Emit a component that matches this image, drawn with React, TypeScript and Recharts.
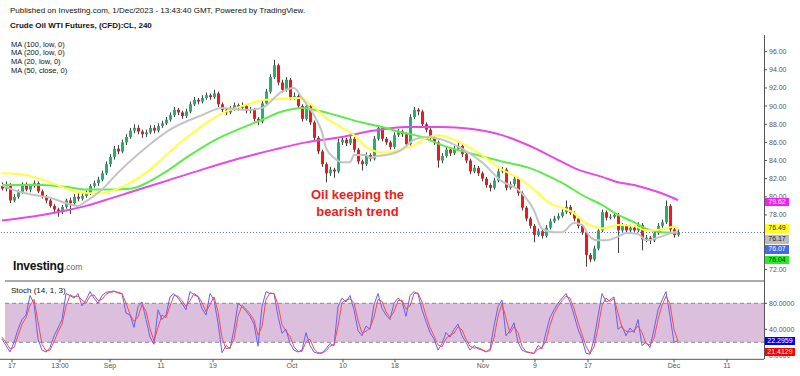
import React from 'react';
import { ComposedChart, Bar, Line, XAxis, YAxis, ReferenceLine, ReferenceArea } from 'recharts';

// [open, high, low, close] — 4h candles, Crude Oil WTI
const candles: number[][] = [
  [81.2, 81.6, 80.7, 80.9], [80.9, 81.7, 80.6, 81.3], [81.3, 81.5, 79.3, 79.6], [79.6, 80.3, 79.4, 80.0], [80.0, 80.8, 79.8, 80.5],
  [80.5, 81.6, 80.3, 81.4], [81.4, 81.6, 80.6, 80.8], [80.8, 81.4, 80.5, 81.2], [81.2, 81.8, 81.0, 81.5], [81.5, 81.7, 80.4, 80.6],
  [80.6, 80.8, 79.8, 80.0], [80.0, 80.2, 79.3, 79.6], [79.6, 79.8, 78.8, 79.0], [79.0, 79.2, 78.3, 78.6], [78.6, 78.8, 77.8, 78.3],
  [78.3, 79.1, 78.1, 78.9], [78.9, 79.8, 78.7, 79.6], [79.6, 79.9, 78.1, 79.3], [79.3, 80.3, 79.1, 80.0], [80.0, 80.4, 79.5, 79.8],
  [79.8, 80.4, 79.6, 80.1], [80.1, 80.7, 79.9, 80.4], [80.4, 81.4, 80.2, 81.2], [81.2, 81.8, 81.0, 81.5], [81.5, 82.2, 81.2, 81.9],
  [81.9, 82.9, 81.7, 82.6], [82.6, 83.9, 82.4, 83.6], [83.6, 84.7, 83.3, 84.4], [84.4, 85.6, 84.1, 85.3], [85.3, 85.7, 84.7, 85.0],
  [85.0, 86.3, 84.8, 86.0], [86.0, 86.9, 85.7, 86.6], [86.6, 87.6, 86.4, 87.3], [87.3, 88.0, 87.0, 87.6], [87.6, 87.9, 86.9, 87.2],
  [87.2, 87.4, 86.5, 86.9], [86.9, 87.4, 86.6, 87.1], [87.1, 87.9, 86.9, 87.6], [87.6, 87.9, 87.0, 87.3], [87.3, 88.1, 87.1, 87.8],
  [87.8, 88.4, 87.6, 88.1], [88.1, 88.8, 87.9, 88.5], [88.5, 89.3, 88.3, 89.0], [89.0, 89.9, 88.8, 89.6], [89.6, 89.8, 89.0, 89.3],
  [89.3, 89.5, 88.6, 88.9], [88.9, 89.7, 88.7, 89.4], [89.4, 90.5, 89.2, 90.2], [90.2, 91.0, 90.0, 90.7], [90.7, 90.9, 90.2, 90.5],
  [90.5, 91.2, 90.3, 90.9], [90.9, 91.5, 90.7, 91.2], [91.2, 91.4, 90.7, 91.0], [91.0, 91.8, 90.8, 91.4], [91.4, 91.6, 89.9, 90.2],
  [90.2, 90.4, 89.3, 89.6], [89.6, 89.8, 89.0, 89.3], [89.3, 90.0, 89.1, 89.7], [89.7, 90.4, 89.5, 90.1], [90.1, 90.3, 89.5, 89.8],
  [89.8, 90.4, 89.6, 90.0], [90.0, 90.2, 89.2, 89.5], [89.5, 89.9, 89.2, 89.6], [89.6, 89.8, 88.3, 88.6], [88.6, 88.8, 87.9, 88.3],
  [88.3, 90.6, 88.1, 90.3], [90.3, 91.9, 90.1, 91.6], [91.6, 93.5, 91.4, 93.2], [93.2, 95.1, 93.0, 94.5], [94.5, 94.7, 92.3, 92.6],
  [92.6, 92.9, 91.5, 91.8], [91.8, 93.2, 91.6, 92.9], [92.9, 93.1, 90.7, 91.0], [91.0, 91.5, 90.7, 91.1], [91.1, 91.3, 89.7, 90.0],
  [90.0, 90.2, 88.3, 88.6], [88.6, 90.3, 88.4, 90.0], [90.0, 90.2, 87.9, 88.2], [88.2, 88.4, 86.2, 86.5], [86.5, 86.7, 84.7, 85.0],
  [85.0, 85.2, 83.3, 83.6], [83.6, 83.8, 81.6, 82.6], [82.6, 83.3, 82.3, 83.0], [83.0, 83.2, 82.1, 82.8], [82.8, 86.4, 82.6, 86.0],
  [86.0, 86.7, 85.7, 86.3], [86.3, 86.5, 85.6, 85.9], [85.9, 86.7, 85.7, 86.4], [86.4, 86.6, 84.9, 85.2], [85.2, 85.4, 83.6, 83.9],
  [83.9, 84.1, 82.9, 83.6], [83.6, 84.9, 83.4, 84.6], [84.6, 84.8, 83.9, 84.2], [84.2, 86.7, 84.0, 86.4], [86.4, 87.9, 86.2, 87.6],
  [87.6, 87.8, 86.1, 86.4], [86.4, 86.6, 85.7, 86.0], [86.0, 86.2, 85.2, 85.5], [85.5, 87.1, 85.3, 86.8], [86.8, 87.5, 86.6, 87.2],
  [87.2, 87.4, 86.6, 86.9], [86.9, 87.1, 85.5, 85.8], [85.8, 89.1, 85.6, 88.8], [88.8, 89.9, 88.6, 89.6], [89.6, 89.8, 89.0, 89.4],
  [89.4, 89.6, 87.7, 88.0], [88.0, 88.2, 87.1, 87.4], [87.4, 87.6, 86.2, 86.5], [86.5, 86.7, 85.7, 86.0], [86.0, 86.2, 83.2, 84.0],
  [84.0, 84.8, 83.7, 84.5], [84.5, 85.5, 84.3, 85.2], [85.2, 85.4, 84.5, 84.8], [84.8, 85.6, 84.6, 85.3], [85.3, 86.0, 85.1, 85.6],
  [85.6, 85.8, 84.4, 84.7], [84.7, 84.9, 83.7, 84.0], [84.0, 84.2, 82.5, 82.8], [82.8, 83.5, 82.6, 83.2], [83.2, 83.4, 82.3, 82.6],
  [82.6, 82.8, 81.7, 82.0], [82.0, 82.2, 81.0, 81.3], [81.3, 81.5, 80.6, 81.0], [81.0, 82.1, 80.8, 81.8], [81.8, 83.1, 81.6, 82.8],
  [82.8, 83.3, 82.6, 83.0], [83.0, 83.2, 80.7, 81.0], [81.0, 81.7, 80.8, 81.4], [81.4, 82.3, 81.2, 82.0], [82.0, 82.2, 80.1, 80.4],
  [80.4, 80.6, 78.5, 78.8], [78.8, 79.0, 77.3, 77.6], [77.6, 77.8, 76.5, 76.8], [76.8, 77.0, 75.0, 75.8], [75.8, 76.5, 75.6, 76.2],
  [76.2, 76.4, 75.4, 75.7], [75.7, 76.9, 75.5, 76.6], [76.6, 77.6, 76.4, 77.3], [77.3, 77.9, 77.1, 77.6], [77.6, 78.2, 77.4, 77.9],
  [77.9, 78.6, 77.7, 78.3], [78.3, 79.6, 78.1, 78.9], [78.9, 79.1, 78.0, 78.2], [78.2, 78.4, 77.3, 77.6], [77.6, 77.8, 76.5, 76.8],
  [76.8, 77.0, 75.8, 76.1], [76.1, 76.3, 72.3, 73.6], [73.6, 73.8, 72.8, 73.1], [73.1, 74.6, 72.9, 74.3], [74.3, 76.6, 74.1, 76.3],
  [76.3, 78.6, 76.1, 78.3], [78.3, 78.5, 77.4, 77.7], [77.7, 78.1, 77.5, 77.8], [77.8, 78.3, 77.6, 78.0], [78.0, 78.2, 73.8, 76.3],
  [76.3, 77.1, 76.1, 76.8], [76.8, 77.0, 76.0, 76.3], [76.3, 76.9, 76.1, 76.6], [76.6, 76.8, 76.0, 76.3], [76.3, 77.2, 76.1, 76.9],
  [76.9, 77.1, 74.1, 75.3], [75.3, 75.8, 75.0, 75.5], [75.5, 75.7, 74.8, 75.2], [75.2, 76.3, 75.0, 76.0], [76.0, 77.1, 75.8, 76.8],
  [76.8, 77.5, 76.6, 77.2], [77.2, 79.6, 77.0, 79.0], [79.0, 79.2, 76.1, 76.4], [76.4, 76.6, 75.5, 75.8], [75.8, 76.4, 75.6, 76.07],
];

// moving averages: [candle index, value]
const ma20Low: number[][] = [
  [0, 81.3], [2, 80.9], [8, 80.2], [12, 79.9], [16, 79.3], [19, 79.0], [21, 79.5], [25, 80.8], [28, 82.2], [31, 83.5],
  [37, 85.8], [42, 87.4], [50, 89.0], [55, 89.8], [60, 89.6], [62, 89.6], [65, 89.8], [70, 91.6], [73, 92.0], [75, 90.9],
  [78, 89.0], [80, 87.1], [81, 85.4], [83, 84.3], [85, 83.8], [87, 83.8], [88, 84.6], [91, 84.6], [92, 84.3], [94, 84.5],
  [96, 84.6], [100, 85.2], [103, 86.3], [106, 86.6], [110, 86.3], [115, 85.3], [120, 83.8], [125, 81.7], [129, 80.8], [133, 78.5],
  [135, 76.5], [138, 76.1], [140, 76.1], [143, 77.1], [145, 76.9], [147, 75.6], [149, 75.2], [151, 75.2], [154, 75.6], [156, 76.0],
  [159, 75.9], [161, 75.2], [164, 75.5], [166, 75.8], [168, 76.1], [169, 76.17],
];
const ma50Close: number[][] = [
  [0, 82.6], [5, 82.5], [10, 81.9], [15, 81.1], [19, 80.5], [22, 80.4], [25, 80.4], [27, 80.6], [31, 81.3], [37, 83.0],
  [42, 85.0], [50, 87.8], [55, 89.2], [60, 90.0], [66, 90.7], [75, 90.9], [76, 90.6], [78, 89.9], [81, 88.7], [85, 87.6],
  [88, 86.8], [91, 85.5], [95, 84.9], [97, 84.9], [100, 85.3], [103, 85.7], [106, 86.5], [109, 86.8], [115, 85.9], [120, 84.6],
  [125, 83.0], [129, 82.1], [133, 80.8], [137, 79.3], [140, 78.8], [143, 78.2], [145, 77.4], [148, 76.7], [150, 76.5], [154, 76.9],
  [158, 76.8], [161, 76.3], [165, 76.4], [168, 76.7], [169, 76.49],
];
const ma100Low: number[][] = [
  [0, 81.3], [10, 81.3], [16, 81.1], [21, 80.8], [25, 80.8], [32, 80.9], [40, 82.5], [47, 84.6], [53, 86.2], [60, 87.6],
  [65, 88.5], [70, 89.4], [75, 89.8], [80, 89.4], [85, 88.8], [90, 88.2], [95, 87.7], [100, 87.1], [105, 86.6], [110, 85.7],
  [117, 84.8], [125, 83.9], [133, 83.0], [137, 82.2], [141, 81.3], [145, 80.2], [150, 79.1], [154, 78.0], [158, 77.2], [161, 76.5],
  [165, 76.1], [169, 76.04],
];
const ma200Low: number[][] = [
  [0, 77.4], [10, 78.0], [16, 78.5], [21, 79.0], [27, 79.8], [32, 80.5], [40, 81.6], [50, 83.0], [60, 84.3], [68, 85.2],
  [76, 86.0], [85, 86.6], [93, 87.3], [101, 87.7], [110, 87.7], [117, 87.5], [125, 86.8], [132, 85.6], [138, 84.3], [144, 83.0],
  [150, 82.2], [154, 81.6], [158, 81.3], [162, 80.8], [166, 80.2], [169, 79.62],
];

// Stochastic (14, 1, 3)
const stochK: number[] = [
  25, 15, 5, 20, 40, 55, 62, 92, 80, 25,
  8, 5, 12, 30, 42, 55, 95, 92, 88, 95,
  76, 85, 98, 88, 80, 92, 97, 98, 99, 96,
  95, 65, 62, 43, 75, 82, 55, 28, 17, 70,
  55, 62, 90, 95, 88, 80, 70, 98, 93, 90,
  72, 62, 95, 85, 50, 4, 15, 10, 40, 80,
  75, 68, 60, 48, 14, 75, 98, 95, 95, 60,
  34, 40, 18, 8, 5, 8, 35, 15, 5, 3,
  4, 10, 18, 15, 75, 88, 82, 92, 70, 38,
  30, 45, 40, 78, 95, 72, 62, 55, 80, 88,
  82, 60, 92, 98, 94, 70, 52, 35, 25, 8,
  18, 35, 28, 40, 48, 30, 20, 8, 15, 10,
  8, 5, 10, 45, 75, 85, 30, 38, 50, 20,
  8, 5, 4, 3, 15, 10, 35, 58, 70, 80,
  88, 95, 82, 62, 40, 25, 3, 2, 25, 60,
  95, 82, 85, 90, 40, 45, 30, 42, 35, 55,
  15, 20, 12, 40, 70, 85, 98, 60, 20, 22.2959,
];
const stochD: number[] = [
  28, 20, 10, 12, 30, 48, 58, 77, 86, 52,
  17, 7, 8, 21, 36, 48, 75, 93, 90, 91,
  85, 80, 91, 93, 84, 86, 94, 97, 98, 97,
  95, 80, 63, 52, 59, 78, 68, 41, 22, 43,
  62, 58, 76, 92, 91, 84, 75, 84, 95, 91,
  81, 67, 78, 90, 67, 27, 10, 12, 25, 60,
  77, 71, 64, 54, 31, 44, 86, 96, 95, 78,
  47, 37, 29, 13, 6, 6, 21, 25, 10, 4,
  3, 7, 14, 16, 45, 81, 85, 87, 81, 54,
  34, 37, 42, 59, 86, 83, 67, 58, 67, 84,
  85, 71, 76, 95, 96, 82, 61, 43, 30, 16,
  13, 26, 31, 34, 44, 39, 25, 14, 11, 12,
  9, 6, 7, 27, 60, 80, 57, 34, 44, 35,
  14, 6, 4, 3, 9, 12, 22, 46, 64, 75,
  84, 91, 88, 72, 51, 32, 14, 3, 13, 42,
  77, 88, 83, 87, 65, 42, 37, 36, 38, 45,
  35, 18, 16, 26, 55, 77, 91, 79, 40, 21.4129,
];

// axis ticks (74.00 and 76.00 are covered by the value labels in the reference)
const priceTicks = [72, 78, 80, 82, 84, 86, 88, 90, 92, 94, 96];
const stochTicks = [0, 40, 80];
const timeTickPos = [2.5, 14.5, 27, 39.75, 52.75, 72.5, 85.25, 98.25, 120.25, 133.25, 146.5, 168, 181.25];
const timeTickLabels = ['17', '13:00', 'Sep', '11', '19', 'Oct', '10', '18', 'Nov', '9', '17', 'Dec', '11'];

const rows: any[] = candles.map((c, i) => ({
  i,
  o: c[0],
  h: c[1],
  l: c[2],
  c: c[3],
  range: [c[2], c[1]],
  k: stochK[i],
  d: stochD[i],
}));
const put = (arr: number[][], key: string) => arr.forEach(([idx, v]) => { rows[idx][key] = v; });
put(ma20Low, 'ma20');
put(ma50Close, 'ma50');
put(ma100Low, 'ma100');
put(ma200Low, 'ma200');

const FONT = '"Liberation Sans", Arial, sans-serif';
const X_DOMAIN: [number, number] = [-0.5, 190.5];

const Candle = (props: any) => {
  const { x, y, width, height, payload } = props;
  if (!payload || x == null) return null;
  const { o, h, l, c } = payload;
  const top = Math.min(y, y + height);
  const hgt = Math.abs(height);
  const ppu = h - l > 0 ? hgt / (h - l) : 0;
  const cx = Math.round(x + width / 2) + 0.5;
  const bodyTop = top + (h - Math.max(o, c)) * ppu;
  const bodyBot = top + (h - Math.min(o, c)) * ppu;
  const up = c >= o;
  return (
    <g>
      <line x1={cx} x2={cx} y1={top} y2={top + hgt} stroke="#404040" strokeWidth={1} />
      <rect x={cx - 1.5} y={bodyTop} width={3} height={Math.max(1, bodyBot - bodyTop)} fill={up ? '#21b36b' : '#f21818'} />
    </g>
  );
};

const abs = (s: any): any => ({ position: 'absolute', fontFamily: FONT, whiteSpace: 'nowrap', ...s });

const boxes = [
  { t: '79.62', top: 197.5, bg: '#ee22ee', fg: '#fff' },
  { t: '76.49', top: 224.3, bg: '#ffff22', fg: '#333' },
  { t: '76.17', top: 235, bg: '#bdbdbd', fg: '#222' },
  { t: '76.07', top: 245.3, bg: '#4169e8', fg: '#fff' },
  { t: '76.04', top: 255.7, bg: '#22ee22', fg: '#222' },
];

export default function App() {
  return (
    <div style={{ position: 'absolute', left: 0, top: 0, width: 800, height: 376, background: '#fff', overflow: 'hidden' }}>
      {/* price pane */}
      <div style={{ position: 'absolute', left: 0, top: 0 }}>
        <ComposedChart width={800} height={282} data={rows} margin={{ top: 42.6, right: 0, bottom: 1, left: 0 }}>
          <XAxis dataKey="i" type="number" domain={X_DOMAIN} hide allowDataOverflow />
          <YAxis
            orientation="right"
            width={36}
            domain={[70.72, 97]}
            allowDataOverflow
            ticks={priceTicks}
            interval={0}
            tickFormatter={(v: number) => v.toFixed(2)}
            axisLine={false}
            tickLine={{ stroke: '#555' }}
            tickSize={3}
            tickMargin={2}
            tick={{ fontSize: 7, fill: '#555', fontFamily: FONT }}
          />
          <ReferenceLine y={76.07} stroke="#5070f0" strokeDasharray="1 2" strokeWidth={1} />
          <Line dataKey="ma200" type="monotone" stroke="#e848e8" strokeWidth={2} dot={false} connectNulls isAnimationActive={false} />
          <Line dataKey="ma100" type="monotone" stroke="#5ced4a" strokeWidth={2} dot={false} connectNulls isAnimationActive={false} />
          <Line dataKey="ma50" type="monotone" stroke="#ffff40" strokeWidth={2} dot={false} connectNulls isAnimationActive={false} />
          <Line dataKey="ma20" type="monotone" stroke="#c4c4c4" strokeWidth={2} dot={false} connectNulls isAnimationActive={false} />
          <Bar dataKey="range" barSize={3} isAnimationActive={false} shape={(p: any) => <Candle {...p} />} />
        </ComposedChart>
      </div>

      {/* stochastic pane */}
      <div style={{ position: 'absolute', left: 0, top: 282 }}>
        <ComposedChart width={800} height={94} data={rows} margin={{ top: 0, right: 0, bottom: 0, left: 0 }}>
          <XAxis
            dataKey="i"
            type="number"
            domain={X_DOMAIN}
            allowDataOverflow
            ticks={timeTickPos}
            interval={0}
            tickFormatter={(v: number) => timeTickLabels[timeTickPos.indexOf(v)] ?? ''}
            height={16.7}
            axisLine={{ stroke: '#555' }}
            tickLine={{ stroke: '#555' }}
            tickSize={3}
            tickMargin={1}
            tick={{ fontSize: 7, fill: '#555', fontFamily: FONT }}
          />
          <YAxis
            orientation="right"
            width={36}
            domain={[-6.15, 112.8]}
            allowDataOverflow
            ticks={stochTicks}
            interval={0}
            tickFormatter={(v: number) => v.toFixed(4)}
            axisLine={false}
            tickLine={{ stroke: '#555' }}
            tickSize={3}
            tickMargin={2}
            tick={{ fontSize: 7, fill: '#555', fontFamily: FONT }}
          />
          <ReferenceArea x1={0.75} x2={190.5} y1={20} y2={80} fill="#dcbfdd" fillOpacity={1} stroke="none" />
          <ReferenceLine segment={[{ x: 0.75, y: 80 }, { x: 190.5, y: 80 }]} stroke="#8a8a8a" strokeDasharray="4 3" />
          <ReferenceLine segment={[{ x: 0.75, y: 20 }, { x: 190.5, y: 20 }]} stroke="#8a8a8a" strokeDasharray="4 3" />
          <Line dataKey="k" type="linear" stroke="#6060ff" strokeWidth={1} dot={false} isAnimationActive={false} />
          <Line dataKey="d" type="linear" stroke="#ff4848" strokeWidth={1} dot={false} isAnimationActive={false} />
        </ComposedChart>
      </div>

      {/* frame lines */}
      <div style={{ position: 'absolute', left: 764, top: 35, width: 1, height: 324.3, background: '#555' }} />
      <div style={{ position: 'absolute', left: 5, top: 280, width: 759, height: 2, background: '#aaa' }} />

      {/* header texts */}
      <div style={abs({ left: 10, top: 6, fontSize: 8, lineHeight: '9px', color: '#111' })}>
        Published on Investing.com, 1/Dec/2023 - 13:43:40 GMT, Powered by TradingView.
      </div>
      <div style={abs({ left: 10, top: 20.5, fontSize: 8, lineHeight: '9px', fontWeight: 'bold', color: '#111' })}>
        Crude Oil WTI Futures, (CFD):CL, 240
      </div>
      <div style={abs({ left: 11, top: 40.8, fontSize: 7.5, lineHeight: '8.6px', color: '#111' })}>
        <div>MA (100, low, 0)</div>
        <div>MA (200, low, 0)</div>
        <div>MA (20, low, 0)</div>
        <div>MA (50, close, 0)</div>
      </div>

      {/* annotation */}
      <div style={abs({ left: 300, top: 185.5, width: 115, textAlign: 'center', fontSize: 13, lineHeight: '17px', fontWeight: 'bold', color: '#ee1c1c' })}>
        <div>Oil keeping the</div>
        <div>bearish trend</div>
      </div>

      {/* logo */}
      <div style={abs({ left: 13, top: 259.8, fontSize: 12, lineHeight: '12px', fontWeight: 'bold', color: '#111', letterSpacing: '-0.2px' })}>
        Investing<span style={{ fontSize: 8.5, fontWeight: 'normal', color: '#666', letterSpacing: 0 }}>.com</span>
      </div>

      <div style={abs({ left: 11, top: 286.7, fontSize: 8, lineHeight: '8px', color: '#111' })}>Stoch (14, 1, 3)</div>

      {/* last value labels */}
      {boxes.map((b) => (
        <div key={b.t} style={abs({ left: 765, top: b.top, width: 24, height: 8.5, lineHeight: '8.5px', fontSize: 7, textAlign: 'center', background: b.bg, color: b.fg })}>
          {b.t}
        </div>
      ))}
      <div style={abs({ left: 765, top: 337.3, width: 30, height: 8, lineHeight: '8px', fontSize: 7, textAlign: 'center', background: '#0000ff', color: '#fff' })}>22.2959</div>
      <div style={abs({ left: 765, top: 347.7, width: 30, height: 8, lineHeight: '8px', fontSize: 7, textAlign: 'center', background: '#ff0000', color: '#fff' })}>21.4129</div>
    </div>
  );
}
